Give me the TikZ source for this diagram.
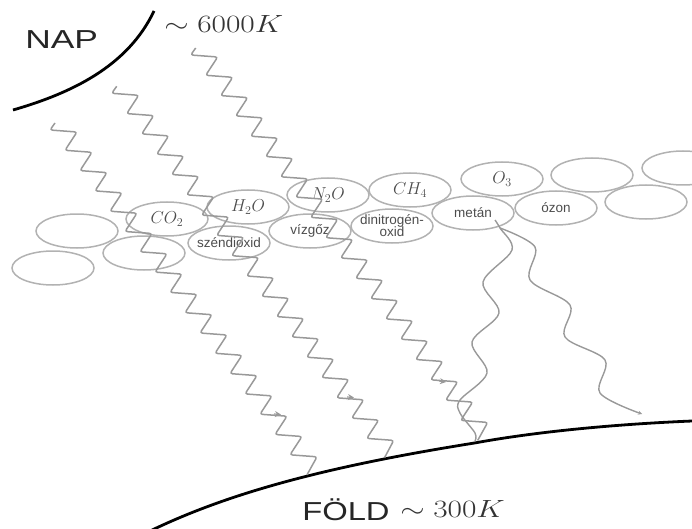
\documentclass[tikz,border=0pt]{standalone}
\usepackage{fontspec}
\setsansfont{Liberation Sans}
\usetikzlibrary{arrows.meta,calc,shapes.geometric}
\definecolor{ringgray}{gray}{0.70}
\definecolor{wavegray}{gray}{0.60}
\definecolor{labelgray}{gray}{0.30}
\tikzset{
  x=1pt,y=-1pt,
  molecule/.style={draw=ringgray,line width=1.5pt,ellipse,minimum width=82pt,minimum height=34pt,inner sep=-9pt,text=labelgray,align=center},
  formula/.style={font=\fontsize{18}{20}\selectfont},
  gasname/.style={font=\sffamily\fontsize{13.5}{13}\selectfont},
  body/.style={line width=2.8pt,black},
  wave/.style={draw=wavegray,line width=1.5pt,rounded corners=2.5pt},
  reemit/.style={draw=wavegray,line width=1.4pt},
  tiptick/.style={draw=wavegray,line width=1.2pt,-{Stealth[length=6pt,width=6pt]}},
  bigsans/.style={font=\sffamily\fontsize{26}{28}\selectfont,text=black!85,transform shape,inner sep=0pt},
  bigmath/.style={font=\fontsize{27}{29}\selectfont,text=black!80,xscale=1.26,transform shape,inner sep=0pt},
}
\begin{document}
\begin{tikzpicture}
\useasboundingbox (0,0) rectangle (692,529);

% Sun and Earth limbs
\draw[body] (13,110) .. controls (72,93) and (128,66) .. (154,11);
\draw[body] (148,532) .. controls (230,492) and (330,466) .. (474.5,443) .. controls (540,431) and (620,424) .. (692,421);

\node[bigsans,xscale=1.36,anchor=west] (nap) at (25,40) {NAP};
\node[bigmath,anchor=west] (suntemp) at (164,24) {$\sim 6000K$};
\node[bigsans,xscale=1.26,anchor=west] (earth) at (302,510) {FÖLD};
\node[bigmath,anchor=west] (earthtemp) at (400,509) {$\sim 300K$};

% Upper row of molecules with their formulas
\node[molecule,formula] (co2)  at (167,219) {$CO_2$};
\node[molecule,formula] (h2o)  at (248,207) {$H_2O$};
\node[molecule,formula] (n2o)  at (328,195) {$N_2O$};
\node[molecule,formula] (ch4)  at (410,190) {$CH_4$};
\node[molecule,formula] (o3)   at (502,179) {$O_3$};
\node[molecule] (free1) at (592,175) {};
\node[molecule] (free2) at (683,168) {};

% Lower row with the gas names
\node[molecule,gasname] (co2name) at (229,243) {széndioxid};
\node[molecule,gasname] (h2oname) at (310,231) {vízgőz};
\node[molecule,gasname] (n2oname) at (392,226) {dinitrogén-\\[-1pt]oxid};
\node[molecule,gasname] (ch4name) at (473,213) {metán};
\node[molecule,gasname] (o3name)  at (556,208) {ózon};
\node[molecule] (free3) at (646,202) {};

% Unlabelled molecules on the left
\node[molecule] (free4) at (77,231) {};
\node[molecule] (free5) at (144,253) {};
\node[molecule] (free6) at (53,268) {};

% Incoming short-wave radiation
\coordinate (sunA) at (190.7,55);
\coordinate (sunB) at (111.7,93.3);
\coordinate (sunC) at (50,130);

\draw[wave] ($(sunA)+(5,-7)$) -- (sunA) foreach \i in {1,...,18} { -- ++(27,2) -- ++(-12,18.3) } -- ++(27,2) -- ++(-10,18);
\draw[wave] ($(sunB)+(5,-7)$) -- (sunB) foreach \i in {1,...,17} { -- ++(27,2) -- ++(-12,18.3) } -- ++(27,2) -- ++(-9,17);
\draw[wave] ($(sunC)+(5,-7)$) -- (sunC) foreach \i in {1,...,16} { -- ++(27,2) -- ++(-12,18.3) } -- ++(27,2) -- ++(-10,18);

% Small direction marks on the waves
\draw[tiptick] (274,414) -- (281,414.5);
\draw[tiptick] (347,397) -- (354,397.5);
\draw[tiptick] (439,381) -- (446,382);

% Long-wave radiation re-emitted from the methane molecule
\coordinate (emit) at (495,220);
\draw[reemit] plot[smooth,tension=0.55] coordinates {(emit) (500,228) (512,250) (483,282) (499,313) (472,342) (487,373) (460,400) (460,413) (475,433) (475,441)};
\draw[reemit,-{Stealth[length=4pt,width=4pt]}] plot[smooth,tension=0.55] coordinates {(500,228) (535,247) (530,280) (570,305) (565,337) (605,360) (600,393) (642,414)};
\end{tikzpicture}
\end{document}
